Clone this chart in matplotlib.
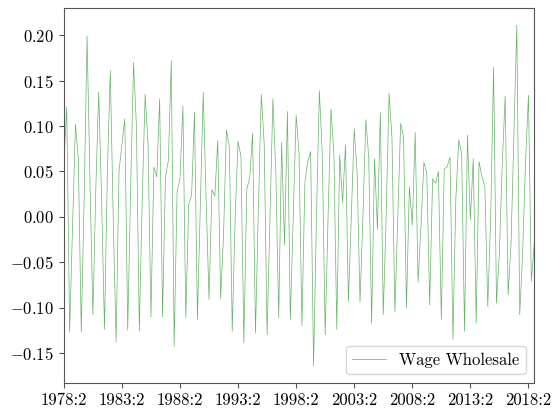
import numpy as np
import matplotlib
matplotlib.use("Agg")
import matplotlib.pyplot as plt

plt.rcParams["font.family"] = "serif"
plt.rcParams["font.serif"] = ["cmr10"]
plt.rcParams["mathtext.fontset"] = "cm"
plt.rcParams["axes.formatter.use_mathtext"] = True
plt.rcParams["font.size"] = 12

# Quarterly wage growth (wholesale), 1978:2 onwards
wage_wholesale = [
    0.059, 0.121, -0.127, -0.010, 0.102, 0.063, -0.127, 0.020, 0.199, 0.040,
    -0.108, 0.030, 0.137, 0.020, -0.124, 0.050, 0.161, 0.000, -0.138, 0.050,
    0.080, 0.108, -0.125, 0.030, 0.170, 0.100, -0.126, 0.020, 0.135, 0.080,
    -0.110, 0.055, 0.044, 0.130, -0.110, 0.044, 0.062, 0.172, -0.143, 0.028,
    0.042, 0.122, -0.111, 0.013, 0.024, 0.115, -0.113, 0.010, 0.137, 0.020,
    -0.091, 0.030, 0.023, 0.084, -0.090, -0.020, 0.096, 0.077, -0.126, 0.000,
    0.083, 0.066, -0.139, 0.030, 0.043, 0.092, -0.128, 0.010, 0.135, 0.080,
    -0.130, 0.000, 0.130, 0.050, -0.111, 0.082, -0.031, 0.116, -0.113, 0.000,
    0.112, 0.070, -0.120, 0.037, 0.061, 0.072, -0.164, 0.000, 0.139, 0.070,
    -0.130, 0.000, 0.119, 0.070, -0.124, 0.068, 0.016, 0.079, -0.093, 0.000,
    0.097, 0.050, -0.094, 0.000, 0.107, 0.066, -0.117, 0.064, -0.014, 0.115,
    -0.108, 0.000, 0.136, 0.088, -0.105, 0.000, 0.103, 0.088, -0.100, 0.033,
    -0.009, 0.093, -0.072, -0.010, 0.060, 0.048, -0.097, 0.042, 0.037, 0.050,
    -0.113, 0.053, 0.055, 0.066, -0.135, 0.020, 0.085, 0.070, -0.126, 0.090,
    -0.003, 0.064, -0.117, 0.061, 0.044, 0.033, -0.099, 0.000, 0.165, -0.095,
    -0.040, 0.060, 0.133, -0.086, -0.030, 0.090, 0.211, -0.108, -0.040, 0.060,
    0.134, -0.071, -0.030,
]

tick_labels = ["1978:2", "1983:2", "1988:2", "1993:2", "1998:2",
               "2003:2", "2008:2", "2013:2", "2018:2"]
tick_step = 20  # quarters between labelled dates

x = np.arange(len(wage_wholesale))

fig = plt.figure(figsize=(5.6, 4.12), dpi=100)
ax = fig.add_axes([0.114, 0.071, 0.840, 0.909])

ax.plot(x, wage_wholesale, color="#008000", alpha=0.6, lw=0.5,
        label="Wage Wholesale")

ax.set_xlim(x[0], x[-1])
ax.set_xticks(np.arange(len(tick_labels)) * tick_step)
ax.set_xticklabels(tick_labels)

for s in ax.spines.values():
    s.set_color("#555555")
ax.tick_params(colors="#555555", labelcolor="black", length=3.5)

ax.legend(loc="lower right")

fig.savefig("out.png", dpi=100)
